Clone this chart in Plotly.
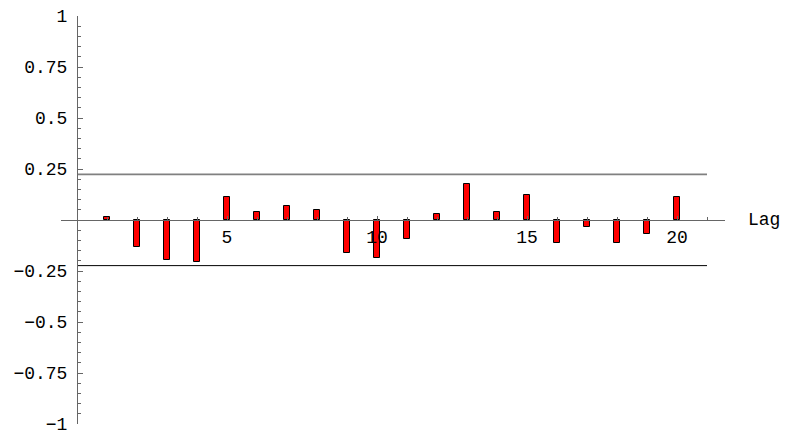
import plotly.graph_objects as go

# Sample autocorrelation by lag
lags = list(range(1, 21))
acf = [0.017, -0.130, -0.194, -0.208, 0.114, 0.041, 0.067, 0.051, -0.161, -0.184,
       -0.091, 0.031, 0.178, 0.041, 0.121, -0.115, -0.032, -0.111, -0.071, 0.111]

# Approximate 95% confidence band (2/sqrt(n), n = 80)
band = 0.2236
band_lags = [0, 21]

y_ticks = [1, 0.75, 0.5, 0.25, -0.25, -0.5, -0.75, -1]
y_labels = ["1", "0.75", "0.5", "0.25", "\u22120.25", "\u22120.5", "\u22120.75", "\u22121"]
x_ticks = [5, 10, 15, 20]
x_labels = ["5", "10", "15", "20"]

x_range = [-0.5333, 21.6]
tick_font = dict(family="Liberation Mono, DejaVu Sans Mono, monospace", size=18, color="black")
axis_grey = "#666666"

fig = go.Figure()

fig.add_trace(go.Scatter(
    x=band_lags, y=[band, band], mode="lines",
    line=dict(color="#808080", width=1.6), hoverinfo="skip", showlegend=False,
))
fig.add_trace(go.Scatter(
    x=band_lags, y=[-band, -band], mode="lines",
    line=dict(color="black", width=1), hoverinfo="skip", showlegend=False,
))

fig.add_trace(go.Bar(
    x=lags, y=acf, width=0.2,
    marker=dict(color="#ff0000", line=dict(color="black", width=1)),
    showlegend=False,
))

fig.update_layout(
    width=785, height=435,
    margin=dict(l=61, r=60, t=16, b=11, autoexpand=False),
    paper_bgcolor="white", plot_bgcolor="white",
    bargap=0,
    xaxis=dict(
        range=x_range, anchor="free", position=0.5, automargin=False,
        showline=True, linecolor=axis_grey, linewidth=1,
        showgrid=False, zeroline=False,
        tickmode="array", tickvals=x_ticks, ticktext=x_labels,
        ticks="inside", ticklen=4, tickcolor=axis_grey,
        minor=dict(dtick=1, tick0=0, ticks="inside", ticklen=3, tickcolor=axis_grey, showgrid=False),
        tickfont=tick_font, ticklabeloverflow="allow",
    ),
    yaxis=dict(
        range=[-1, 1], anchor="free", automargin=False,
        position=(0 - x_range[0]) / (x_range[1] - x_range[0]),
        showline=True, linecolor=axis_grey, linewidth=1,
        showgrid=False, zeroline=False,
        tickmode="array", tickvals=y_ticks, ticktext=y_labels,
        ticks="inside", ticklen=5, tickcolor=axis_grey,
        minor=dict(dtick=0.05, tick0=0, ticks="inside", ticklen=3, tickcolor=axis_grey, showgrid=False),
        tickfont=tick_font, ticklabeloverflow="allow", ticklabelstandoff=6,
    ),
    annotations=[dict(
        text="Lag", xref="paper", x=(22.3 - x_range[0]) / (x_range[1] - x_range[0]),
        yref="y", y=0, xanchor="left", yanchor="middle", showarrow=False,
        font=dict(family="Liberation Mono, Courier New, monospace", size=18, color="black"),
    )],
)

fig.write_html("out.html")
